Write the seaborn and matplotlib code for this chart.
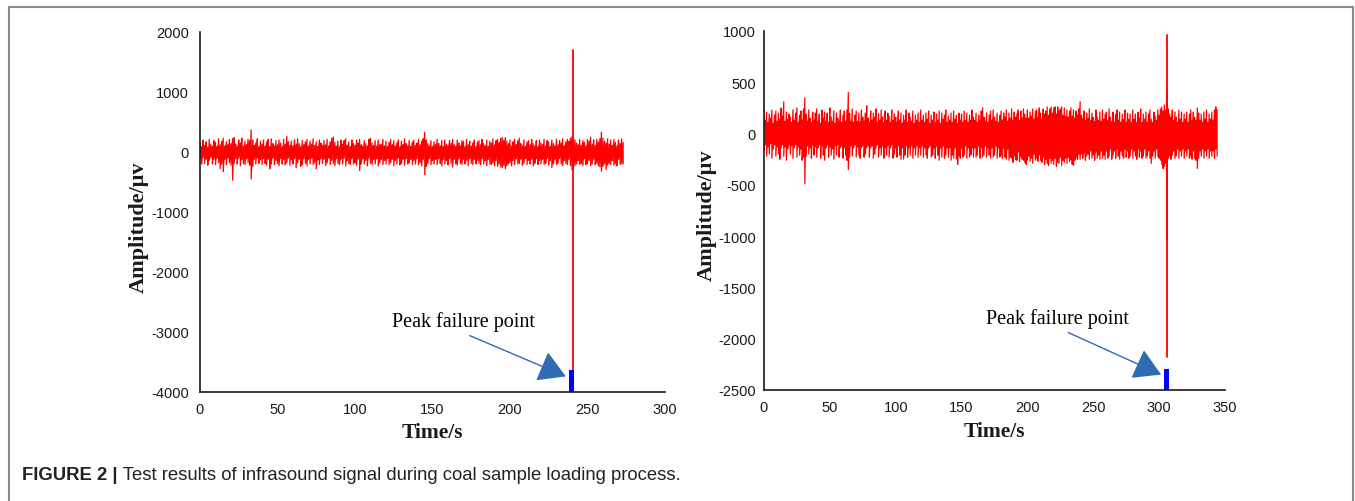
import numpy as np
import pandas as pd
import matplotlib
matplotlib.use("Agg")
import matplotlib.pyplot as plt
from matplotlib.lines import Line2D
import seaborn as sns

# ---------------- data ----------------
# Left panel: per-second upper / lower envelope of the infrasound signal (µV), t = 0..273 s
left_hi = [
    150, 90, 200, 110, 170, 80, 210, 130, 100, 190, 160, 90, 220, 120, 180, 230, 100, 170, 120, 210,
    140, 220, 240, 130, 90, 200, 150, 230, 100, 180, 120, 210, 190, 370, 200, 110, 150, 220, 90, 180,
    130, 200, 100, 170, 210, 90, 220, 140, 100, 190, 120, 200, 150, 90, 210, 130, 260, 170, 110, 180,
    100, 200, 130, 220, 140, 90, 190, 120, 170, 210, 100, 180, 130, 220, 110, 170, 90, 200, 150, 110,
    190, 120, 210, 100, 170, 230, 250, 160, 100, 180, 90, 200, 130, 190, 220, 110, 170, 90, 200, 140,
    110, 200, 150, 210, 120, 90, 190, 140, 100, 210, 230, 150, 110, 190, 90, 200, 130, 120, 210, 100,
    180, 90, 160, 210, 120, 190, 100, 150, 200, 90, 180, 120, 220, 140, 100, 190, 90, 170, 200, 110,
    150, 210, 120, 180, 220, 330, 200, 140, 100, 190, 90, 170, 120, 210, 140, 100, 190, 90, 200, 130,
    110, 190, 140, 210, 120, 90, 200, 150, 100, 190, 170, 90, 210, 120, 180, 100, 150, 200, 90, 170,
    190, 120, 210, 140, 100, 200, 90, 180, 150, 220, 120, 190, 210, 160, 230, 240, 200, 240, 180, 140,
    200, 100, 170, 210, 120, 190, 230, 140, 100, 200, 90, 170, 190, 120, 210, 140, 100, 190, 90, 200,
    150, 120, 210, 100, 190, 170, 90, 200, 140, 100, 210, 120, 190, 150, 220, 100, 170, 210, 180, 230,
    260, 240, 200, 150, 120, 210, 110, 190, 160, 100, 210, 180, 250, 130, 200, 110, 210, 170, 220, 330,
    230, 180, 150, 220, 130, 200, 110, 210, 160, 100, 200, 140, 220, 160,
]
left_lo = [
    -150, -200, -90, -190, -120, -220, -140, -90, -200, -120, -210, -100, -180, -280, -200, -330, -120, -210, -100, -180,
    -220, -470, -190, -110, -200, -100, -230, -130, -190, -210, -110, -180, -220, -450, -240, -120, -200, -100, -190, -130,
    -210, -110, -190, -220, -120, -280, -200, -100, -210, -140, -190, -230, -110, -200, -130, -210, -180, -100, -220, -130,
    -200, -110, -260, -180, -120, -240, -210, -110, -190, -230, -120, -200, -100, -210, -180, -280, -130, -210, -110, -190,
    -120, -220, -180, -100, -210, -140, -190, -230, -110, -190, -210, -120, -200, -100, -230, -140, -190, -210, -110, -200,
    -180, -220, -120, -310, -200, -110, -200, -140, -230, -100, -190, -210, -120, -200, -110, -230, -180, -120, -210, -140,
    -200, -110, -210, -180, -120, -230, -140, -200, -100, -210, -190, -120, -220, -110, -200, -180, -120, -210, -140, -200,
    -110, -210, -180, -230, -120, -380, -240, -190, -110, -210, -140, -200, -120, -210, -110, -190, -230, -120, -200, -140,
    -210, -110, -190, -250, -120, -200, -220, -110, -190, -210, -120, -200, -140, -230, -110, -190, -210, -120, -200, -140,
    -190, -210, -110, -200, -140, -230, -120, -200, -210, -180, -230, -140, -240, -200, -250, -260, -220, -280, -230, -200,
    -180, -230, -140, -210, -110, -200, -190, -120, -220, -190, -110, -210, -140, -200, -120, -230, -190, -110, -210, -140,
    -200, -120, -210, -190, -110, -220, -140, -260, -200, -120, -210, -190, -110, -200, -230, -140, -190, -210, -120, -230,
    -300, -250, -220, -200, -140, -210, -190, -230, -110, -210, -190, -140, -230, -200, -120, -210, -190, -230, -250, -320,
    -240, -200, -290, -220, -190, -210, -140, -220, -190, -230, -120, -210, -190, -200,
]
# Right panel: per-second upper / lower envelope (µV), t = 0..344 s
right_hi = [
    240, 130, 210, 110, 190, 150, 230, 100, 180, 220, 120, 200, 140, 250, 170, 310, 120, 210, 140, 190,
    160, 110, 230, 130, 200, 250, 110, 180, 220, 130, 240, 350, 190, 120, 230, 150, 110, 210, 130, 200,
    240, 120, 190, 100, 230, 150, 210, 120, 200, 110, 250, 160, 120, 220, 100, 200, 150, 120, 230, 110,
    180, 220, 120, 230, 400, 200, 120, 240, 110, 180, 220, 120, 200, 110, 230, 160, 120, 200, 270, 150,
    110, 220, 130, 200, 160, 240, 110, 190, 130, 230, 160, 110, 220, 130, 200, 170, 110, 230, 130, 190,
    160, 110, 220, 130, 200, 100, 180, 130, 230, 110, 200, 160, 120, 220, 100, 180, 130, 200, 110, 230,
    130, 180, 110, 200, 140, 220, 100, 180, 130, 210, 110, 190, 130, 220, 100, 200, 140, 180, 230, 110,
    170, 130, 200, 110, 220, 140, 180, 100, 200, 130, 190, 110, 220, 130, 200, 110, 180, 130, 230, 160,
    130, 200, 110, 180, 130, 220, 250, 160, 120, 200, 110, 180, 220, 130, 230, 160, 120, 200, 110, 180,
    220, 130, 200, 160, 230, 120, 200, 150, 240, 130, 210, 160, 190, 230, 130, 220, 150, 240, 190, 150,
    230, 150, 210, 170, 240, 140, 220, 230, 160, 250, 200, 140, 240, 190, 220, 260, 180, 240, 260, 200,
    250, 260, 190, 260, 220, 240, 260, 180, 250, 170, 230, 160, 220, 250, 170, 230, 150, 220, 180, 240,
    310, 180, 150, 220, 130, 200, 150, 240, 130, 200, 160, 120, 230, 160, 130, 210, 120, 230, 140, 190,
    210, 130, 240, 160, 120, 210, 110, 190, 230, 130, 210, 110, 190, 140, 230, 110, 200, 140, 190, 110,
    230, 140, 190, 110, 210, 150, 240, 110, 190, 140, 210, 110, 190, 230, 140, 110, 210, 170, 130, 230,
    180, 240, 260, 220, 280, 230, 200, 240, 190, 160, 230, 130, 210, 160, 110, 230, 140, 210, 110, 190,
    140, 210, 110, 190, 230, 130, 210, 160, 130, 250, 200, 130, 190, 110, 210, 140, 230, 110, 190, 140,
    210, 130, 230, 260, 230,
]
right_lo = [
    -160, -110, -220, -130, -200, -100, -240, -150, -110, -220, -130, -200, -250, -140, -110, -220, -130, -260, -150, -110,
    -200, -120, -240, -140, -110, -230, -130, -210, -150, -260, -230, -490, -220, -120, -200, -140, -240, -110, -210, -130,
    -230, -140, -110, -240, -120, -210, -260, -140, -110, -230, -130, -210, -150, -250, -120, -210, -110, -230, -140, -120,
    -240, -140, -210, -260, -350, -230, -120, -220, -140, -110, -230, -130, -210, -240, -140, -120, -230, -200, -140, -120,
    -230, -140, -120, -240, -200, -140, -110, -230, -140, -210, -120, -240, -140, -210, -120, -230, -140, -110, -240, -200,
    -140, -230, -120, -210, -250, -140, -250, -210, -120, -230, -140, -210, -120, -240, -140, -210, -120, -230, -140, -210,
    -120, -230, -140, -210, -240, -140, -120, -230, -210, -140, -240, -120, -210, -260, -140, -230, -120, -240, -210, -140,
    -230, -140, -260, -210, -240, -140, -250, -300, -210, -240, -140, -230, -210, -120, -240, -140, -230, -210, -140, -230,
    -140, -230, -210, -120, -240, -140, -230, -210, -120, -230, -140, -210, -240, -140, -230, -210, -120, -240, -140, -230,
    -210, -240, -140, -230, -250, -150, -260, -230, -240, -280, -220, -250, -260, -180, -270, -220, -250, -260, -280, -300,
    -260, -220, -270, -240, -290, -200, -260, -240, -270, -210, -260, -280, -230, -300, -250, -290, -310, -240, -290, -260,
    -300, -240, -320, -280, -290, -230, -310, -260, -280, -240, -290, -230, -270, -250, -300, -310, -260, -230, -250, -200,
    -250, -200, -240, -190, -260, -220, -200, -250, -170, -240, -210, -260, -180, -240, -210, -250, -170, -240, -210, -250,
    -170, -240, -220, -150, -250, -210, -170, -240, -150, -220, -250, -170, -220, -240, -150, -230, -170, -240, -220, -150,
    -240, -170, -220, -250, -150, -230, -170, -240, -220, -150, -240, -220, -170, -240, -290, -220, -170, -240, -150, -220,
    -240, -260, -300, -340, -320, -290, -270, -240, -220, -250, -210, -170, -240, -220, -150, -240, -170, -220, -150, -240,
    -170, -220, -150, -240, -220, -250, -170, -240, -260, -340, -240, -170, -220, -150, -240, -170, -220, -150, -240, -170,
    -220, -170, -240, -150, -220,
]

# failure spikes (time s, top µV, bottom µV)
left_spike_t = [240.5]
left_spike_top = [1700]
left_spike_bottom = [-3640]
right_spike_t = [305.6, 306.1]
right_spike_top = [960, 420]
right_spike_bottom = [-2180, -1030]

# peak-failure markers (blue bars): start, end time, top value
left_peak = (238.3, 241.0, -3640)
right_peak = (303.6, 307.3, -2300)

# annotation (text position, arrow tail, arrow tip) in data units
left_note = dict(text=(170, -2820), tail=(174, -3060), tip=(236, -3740))
right_note = dict(text=(223, -1800), tail=(231, -1940), tip=(301.5, -2350))

left_xticks = [0, 50, 100, 150, 200, 250, 300]
left_yticks = [-4000, -3000, -2000, -1000, 0, 1000, 2000]
right_xticks = [0, 50, 100, 150, 200, 250, 300, 350]
right_yticks = [-2500, -2000, -1500, -1000, -500, 0, 500, 1000]

caption_bold = "FIGURE 2 |"
caption_text = " Test results of infrasound signal during coal sample loading process."

# ---------------- styling ----------------
sns.set_theme(style="white")
plt.rcParams["font.family"] = ["Liberation Sans", "DejaVu Sans"]
plt.rcParams["axes.unicode_minus"] = False

RED = "#ff0000"
BLUE_BAR = "#0000ff"
ARROW = "#2e6db4"
SERIF = ["Liberation Serif", "DejaVu Serif"]

fig = plt.figure(figsize=(13.55, 5.02), dpi=100)
W, H = 1355, 502
axL = fig.add_axes([200 / W, (H - 393) / H, 465 / W, 360 / H])
axR = fig.add_axes([764 / W, (H - 391) / H, 461 / W, 359 / H])


def signal_frame(hi, lo):
    n = min(len(hi), len(lo))
    t = np.arange(n)
    x = np.repeat(t, 2)
    y = np.column_stack([hi[:n], lo[:n]]).ravel()
    return pd.DataFrame({"t": x, "amp": y})


def draw_panel(ax, hi, lo, sp_t, sp_top, sp_bot, peak, note, xticks, yticks, ypad, ylab_x, ylab_y, xlab_y):
    df = signal_frame(hi, lo)
    sns.lineplot(data=df, x="t", y="amp", ax=ax, color=RED, lw=0.9,
                 sort=False, estimator=None, legend=False)
    for t, top, bot in zip(sp_t, sp_top, sp_bot):
        sp = pd.DataFrame({"t": [t, t], "amp": [top, bot]})
        sns.lineplot(data=sp, x="t", y="amp", ax=ax, color=RED, lw=1.3,
                     sort=False, estimator=None, legend=False)
    x0, x1, top = peak
    ax.bar([(x0 + x1) / 2], [top - yticks[0]], bottom=yticks[0], width=x1 - x0,
           color=BLUE_BAR, edgecolor="none", zorder=4)
    ax.text(*note["text"], "Peak failure point", ha="center", va="center",
            fontsize=14.5, family=SERIF, color="black")
    ax.annotate("", xy=note["tip"], xytext=note["tail"],
                arrowprops=dict(arrowstyle="-|>,head_length=0.85,head_width=0.5",
                                color=ARROW, lw=1.0, mutation_scale=20,
                                shrinkA=0, shrinkB=0), zorder=5)

    ax.set_xlim(xticks[0], xticks[-1])
    ax.set_ylim(yticks[0], yticks[-1])
    ax.set_xticks(xticks)
    ax.set_yticks(yticks)
    ax.set_xticklabels([str(v) for v in xticks])
    ax.set_yticklabels([str(v) for v in yticks])
    for s in ["top", "right"]:
        ax.spines[s].set_visible(False)
    for s in ["left", "bottom"]:
        ax.spines[s].set_color("#1a1a1a")
        ax.spines[s].set_linewidth(1.2)
    ax.tick_params(axis="x", direction="in", length=4, width=1, pad=7, labelsize=10.5, colors="#1a1a1a")
    ax.tick_params(axis="y", direction="in", length=4, width=1, pad=ypad, labelsize=10.5, colors="#1a1a1a")
    ax.set_xlabel("Time/s", fontsize=15.5, fontweight="bold", family=SERIF, color="#1a1a1a")
    ax.set_ylabel("Amplitude/μv", fontsize=16, fontweight="bold", family=SERIF, color="#1a1a1a")
    ax.xaxis.set_label_coords(0.5, xlab_y)
    ax.yaxis.set_label_coords(ylab_x, ylab_y)
    ax.set_facecolor("white")


draw_panel(axL, left_hi, left_lo, left_spike_t, left_spike_top, left_spike_bottom,
           left_peak, left_note, left_xticks, left_yticks, 8, -0.111, 0.46, -0.083)
draw_panel(axR, right_hi, right_lo, right_spike_t, right_spike_top, right_spike_bottom,
           right_peak, right_note, right_xticks, right_yticks, 6, -0.102, 0.49, -0.085)

# figure frame (left, top, right edges)
fc = "#8a8a8a"
fig.add_artist(Line2D([9 / W, 9 / W], [0, 1 - 8 / H], color=fc, lw=1.5, transform=fig.transFigure))
fig.add_artist(Line2D([9 / W, 1353 / W], [1 - 8 / H, 1 - 8 / H], color=fc, lw=1.5, transform=fig.transFigure))
fig.add_artist(Line2D([1353 / W, 1353 / W], [0, 1 - 8 / H], color=fc, lw=1.5, transform=fig.transFigure))

# caption
cap_y = 1 - 476 / H
tb = fig.text(22 / W, cap_y, caption_bold, fontsize=13.3, fontweight="bold",
              ha="left", va="center", color="#222222")
fig.canvas.draw()
bb = tb.get_window_extent()
fig.text(bb.x1 / W, cap_y, caption_text, fontsize=13.3, ha="left", va="center", color="#222222")

fig.savefig("out.png", dpi=100, facecolor="white")
